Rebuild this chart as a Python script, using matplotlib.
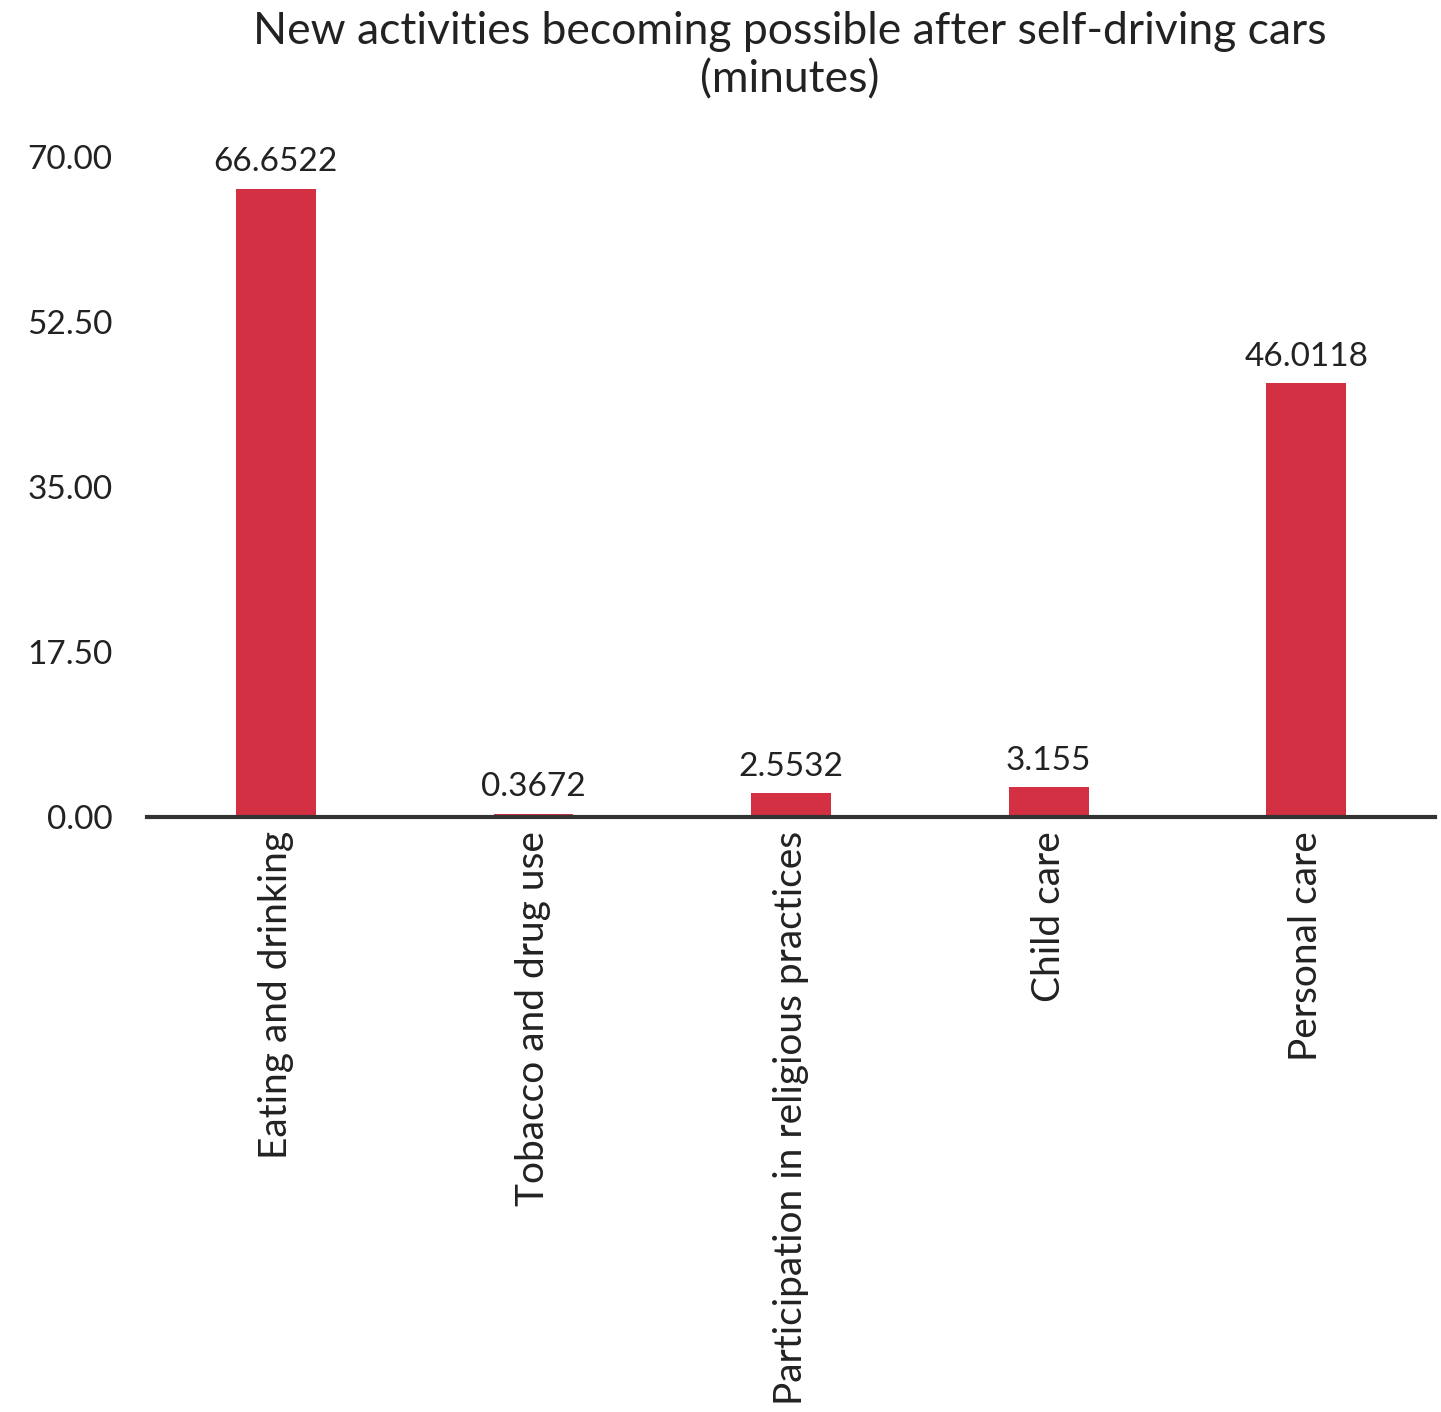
import matplotlib
matplotlib.use("Agg")
import matplotlib.pyplot as plt

categories = ["Eating and drinking", "Tobacco and drug use",
              "Participation in religious practices", "Child care", "Personal care"]
minutes = [66.6522, 0.3672, 2.5532, 3.155, 46.0118]
value_labels = ["66.6522", "0.3672", "2.5532", "3.155", "46.0118"]
y_ticks = [0.0, 17.5, 35.0, 52.5, 70.0]

plt.rcParams["font.family"] = ["Lato", "DejaVu Sans"]
text_color = "#222222"

fig = plt.figure(figsize=(14.41, 14.12), dpi=100)
ax = fig.add_axes([0.102, 0.4214, 0.894, 0.4674])

x = range(len(categories))
bars = ax.bar(x, minutes, width=0.31, color="#D33143")

for rect, lab in zip(bars, value_labels):
    ax.annotate(lab, (rect.get_x() + rect.get_width() / 2, rect.get_height()),
                xytext=(0, 8), textcoords="offset points",
                ha="center", va="bottom", fontsize=24, color=text_color)

ax.set_xlim(-0.5, len(categories) - 0.5)
ax.set_ylim(0, 70)
ax.set_yticks(y_ticks)
ax.set_yticklabels([f"{v:.2f}" for v in y_ticks], fontsize=24, color=text_color)
ax.set_xticks(list(x))
ax.set_xticklabels(categories, rotation=90, fontsize=28, color=text_color, va="top")
ax.tick_params(axis="both", length=0)
ax.tick_params(axis="y", pad=25)
ax.tick_params(axis="x", pad=10)

for side in ("top", "right", "left"):
    ax.spines[side].set_visible(False)
ax.spines["bottom"].set_linewidth(3)
ax.spines["bottom"].set_color("#333333")

fig.suptitle("New activities becoming possible after self-driving cars\n(minutes)",
             x=0.548, y=0.992, va="top", fontsize=32, color=text_color, linespacing=1.2)

fig.savefig("out.png", dpi=100, facecolor="white")
